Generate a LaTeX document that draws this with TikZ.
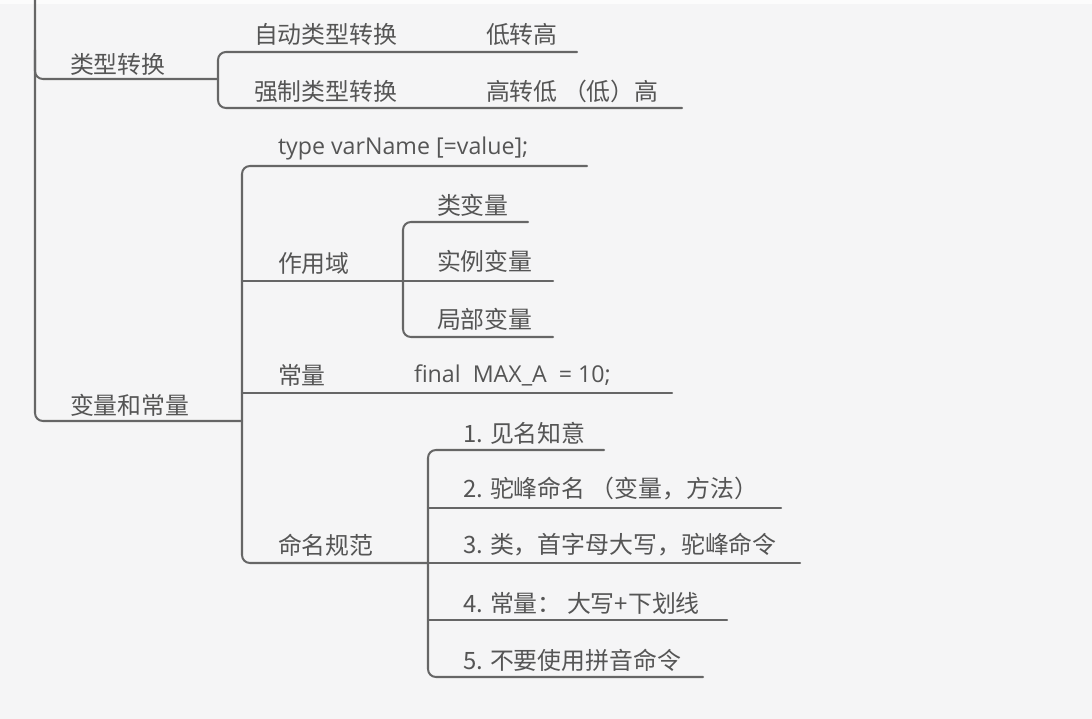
\documentclass[tikz,border=0pt]{standalone}
\usepackage{fontspec}
\newfontfamily\cjk{Noto Sans CJK SC}
\newfontfamily\latinfont{Open Sans}
\usepackage{tikz}
\definecolor{mapbg}{HTML}{F5F5F6}
\definecolor{mapline}{HTML}{666666}
\definecolor{maptext}{HTML}{555555}
\tikzset{
  mind map/.style={
    x=0.02cm,
    y=-0.02cm,
    line width=1.15pt,
    line cap=round,
    line join=round
  },
  branch/.style={
    draw=mapline,
    rounded corners=4.5pt
  },
  topic/.style={
    font=\cjk\fontsize{13.6}{16}\selectfont,
    text=maptext,
    anchor=west,
    inner sep=0pt
  },
  code topic/.style={
    topic,
    font=\latinfont\fontsize{13.2}{16}\selectfont
  }
}

\begin{document}
\begin{tikzpicture}[mind map]
  \fill[mapbg] (0,0) rectangle (1092,719);
  \fill[white!70!mapbg] (0,0) rectangle (1092,4);
  \useasboundingbox (0,0) rectangle (1092,719);

  % topics
  \node[topic] (conv) at (69,64) {类型转换};
  \node[topic] (auto) at (253,34) {自动类型转换};
  \node[topic] (lowhigh) at (485,34) {低转高};
  \node[topic] (force) at (253,91) {强制类型转换};
  \node[topic] (highlow) at (485,91) {高转低 （低）高};
  \node[topic] (var) at (69,405) {变量和常量};
  \node[code topic] (decl) at (277,148) {type varName [=value];};
  \node[topic] (scope) at (277,263) {作用域};
  \node[topic] (clsvar) at (436,205) {类变量};
  \node[topic] (instvar) at (436,261) {实例变量};
  \node[topic] (localvar) at (436,319) {局部变量};
  \node[topic] (const) at (277,375) {常量};
  \node[code topic] (final) at (413,375) {final\ \ MAX\_A\ \ = 10;};
  \node[topic] (naming) at (277,545) {命名规范};
  \node[topic] (rule1) at (462,433) {1. 见名知意};
  \node[topic] (rule2) at (462,489) {2. 驼峰命名 （变量，方法）};
  \node[topic] (rule3) at (462,545) {3. 类，首字母大写，驼峰命令};
  \node[topic] (rule4) at (462,603) {4. 常量： 大写+下划线};
  \node[topic] (rule5) at (462,660) {5. 不要使用拼音命令};

  % forks and line ends
  \coordinate (root top) at (35,-5);
  \coordinate (root split) at (35,50);
  \coordinate (conv fork) at (218,79);
  \coordinate (lowhigh end) at (577,52);
  \coordinate (highlow end) at (682,108);
  \coordinate (var fork) at (242,421);
  \coordinate (decl end) at (587,166);
  \coordinate (scope fork) at (403,281);
  \coordinate (clsvar end) at (528,222);
  \coordinate (instvar end) at (553,281);
  \coordinate (localvar end) at (553,337);
  \coordinate (const fork) at (242,393);
  \coordinate (final end) at (672,393);
  \coordinate (naming fork) at (428,563);
  \coordinate (rule1 end) at (604,450);
  \coordinate (rule2 end) at (781,508);
  \coordinate (rule3 end) at (800,563);
  \coordinate (rule4 end) at (727,620);
  \coordinate (rule5 end) at (703,677);

  % branches
  \draw[branch] (root top) |- (var fork);
  \draw[branch] (root split) |- (conv fork);
  \draw[branch] (lowhigh end) -| (conv fork) |- (highlow end);
  \draw[branch] (decl end) -| (var fork) |- (naming fork);
  \draw[branch] (var fork |- scope fork) -- (instvar end);
  \draw[branch] (clsvar end) -| (scope fork) |- (localvar end);
  \draw[branch] (const fork) -- (final end);
  \draw[branch] (rule1 end) -| (naming fork) |- (rule5 end);
  \draw[branch] (naming fork) -- (rule3 end);
  \draw[branch] (naming fork |- rule2 end) -- (rule2 end);
  \draw[branch] (naming fork |- rule4 end) -- (rule4 end);
\end{tikzpicture}
\end{document}
